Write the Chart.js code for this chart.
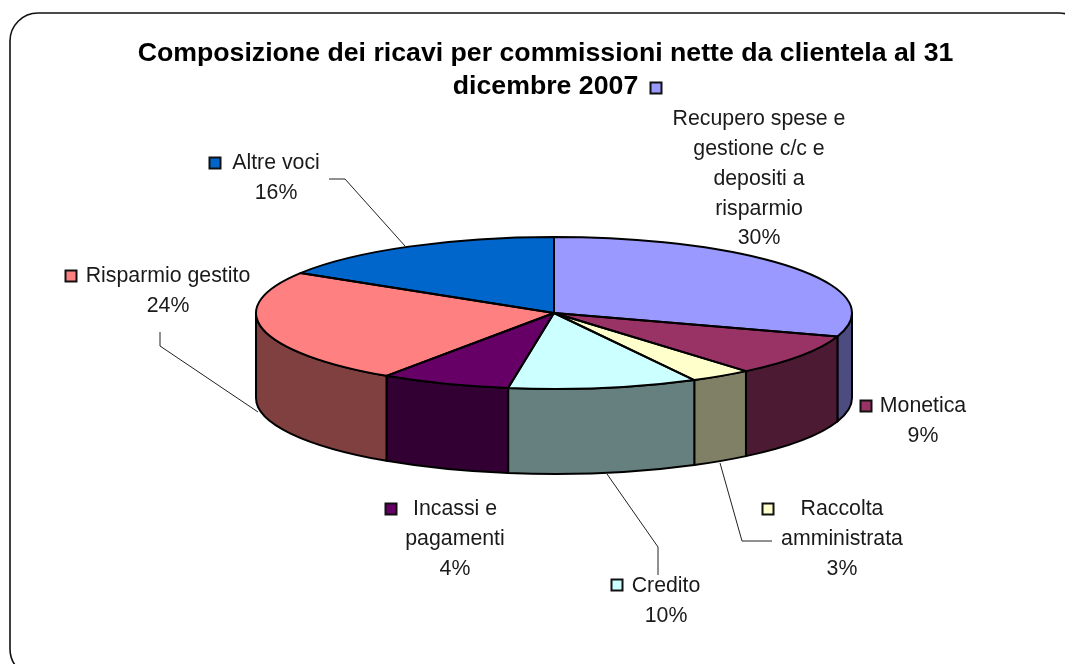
<!DOCTYPE html>
<html><head><meta charset="utf-8">
<style>html,body{margin:0;padding:0;background:#fff;overflow:hidden}canvas{display:block}</style>
<script src="https://cdn.jsdelivr.net/npm/chart.js@4/dist/chart.umd.js"></script>
</head><body>
<div style="width:1065px;height:664px;position:relative"><canvas id="c" width="1065" height="664"></canvas></div>
<script>
const titleLines = ["Composizione dei ricavi per commissioni nette da clientela al 31", "dicembre 2007"];
const categories = ["Recupero spese e gestione c/c e depositi a risparmio","Monetica","Raccolta amministrata","Credito","Incassi e pagamenti","Risparmio gestito","Altre voci"];
// slice sizes as drawn in the picture
const sliceShares = [30, 8.86, 3.34, 10.26, 7.04, 24.3, 16.2];
// percent labels as printed in the picture
const printedPercents = ["30%","9%","3%","10%","4%","24%","16%"];
const topColors = ["#9999FF","#993366","#FFFFCC","#CCFFFF","#660066","#FF8080","#0066CC"];
const sideColors = ["#4C4C80","#4D1A33","#808066","#668080","#330033","#804040","#003366"];
const labelLines = [
  ["Recupero spese e","gestione c/c e","depositi a","risparmio"],
  ["Monetica"],["Raccolta","amministrata"],["Credito"],["Incassi e","pagamenti"],["Risparmio gestito"],["Altre voci"]
];
// label layout: text centre x, first line y, key x, key y
const labelCx = [759,923,842,666,455,168,276];
const labelY  = [119,406,509,586,509,276,163];
const keyX    = [656,866,768,617,391,71,215];
const keyY    = [88,406,509,585,509,276,163];
const leaders = [
  [[329,179],[345,179],[405,246]],
  [[160,332],[160,346],[258,412]],
  [[658,575],[658,547],[607,474]],
  [[772,541],[742,541],[720,463]]
];
const pieCx = 554, pieCy = 313, pieRx = 298, pieRy = 76, pieDepth = 85;

const pie3d = {
  id:'pie3d',
  beforeDraw(chart){
    const c = chart.ctx;
    c.save();
    c.fillStyle='#fff'; c.fillRect(0,0,1065,664);
    c.beginPath(); c.roundRect(10,13,1077,664,28);
    c.lineWidth=1.6; c.strokeStyle='#111'; c.stroke();
    c.restore();
  },
  beforeDatasetsDraw(chart){
    const c = chart.ctx, arcs = chart.getDatasetMeta(0).data;
    c.save();
    arcs.forEach((a,i)=>{
      const s = Math.max(a.startAngle,0), e = Math.min(a.endAngle,Math.PI);
      if(e<=s) return;
      c.beginPath();
      c.ellipse(pieCx,pieCy,pieRx,pieRy,0,s,e);
      c.ellipse(pieCx,pieCy+pieDepth,pieRx,pieRy,0,e,s,true);
      c.closePath();
      c.fillStyle=sideColors[i]; c.fill();
      c.lineWidth=2; c.strokeStyle='#000'; c.lineJoin='round'; c.stroke();
    });
    c.restore();
    const a0 = arcs[0];
    const r = a0.outerRadius;
    c.save();
    c.translate(pieCx,pieCy);
    c.scale(pieRx/r,pieRy/r);
    c.translate(-a0.x,-a0.y);
  },
  afterDatasetsDraw(chart){
    const c = chart.ctx, arcs = chart.getDatasetMeta(0).data;
    c.restore();
    c.save();
    c.strokeStyle='#000'; c.lineWidth=2; c.lineJoin='round';
    arcs.forEach(a=>{
      c.beginPath();
      c.moveTo(pieCx,pieCy);
      c.ellipse(pieCx,pieCy,pieRx,pieRy,0,a.startAngle,a.endAngle);
      c.closePath();
      c.stroke();
    });
    c.restore();
    // leader lines
    c.save();
    c.strokeStyle='#222'; c.lineWidth=1;
    leaders.forEach(l=>{
      c.beginPath();
      l.forEach((p,i)=> i? c.lineTo(p[0],p[1]) : c.moveTo(p[0],p[1]));
      c.stroke();
    });
    // labels
    c.font='21.3px "Liberation Sans", Arial, sans-serif';
    c.textAlign='center'; c.textBaseline='middle'; c.fillStyle='#1a1a1a';
    categories.forEach((n,i)=>{
      const lines = labelLines[i].concat([printedPercents[i]]);
      lines.forEach((t,j)=> c.fillText(t,labelCx[i],labelY[i]+j*29.9));
      c.fillStyle=topColors[i];
      c.fillRect(keyX[i]-5.5,keyY[i]-5.5,11,11);
      c.lineWidth=2; c.strokeStyle='#111';
      c.strokeRect(keyX[i]-5.5,keyY[i]-5.5,11,11);
      c.fillStyle='#1a1a1a';
    });
    c.restore();
  }
};

new Chart(document.getElementById('c'),{
  type:'pie',
  data:{labels:categories,datasets:[{data:sliceShares,backgroundColor:topColors,borderWidth:0,clip:false}]},
  options:{
    responsive:false,animation:false,events:[],
    layout:{padding:{left:26,top:37,right:0,bottom:10}},
    plugins:{
      legend:{display:false},tooltip:{enabled:false},
      title:{display:true,text:titleLines,color:'#000',padding:0,
        font:{family:'"Liberation Sans", Arial, sans-serif',size:26.7,weight:'bold',lineHeight:1.236}}
    }
  },
  plugins:[pie3d]
});
</script>
</body></html>
